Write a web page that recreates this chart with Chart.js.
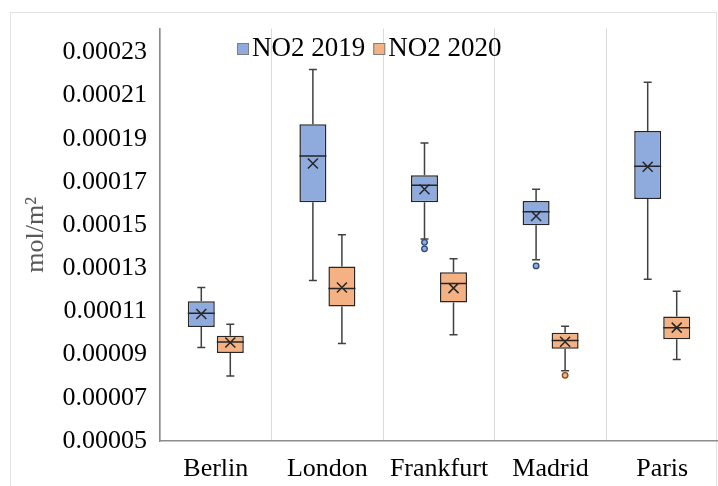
<!DOCTYPE html>
<html lang="en">
<head>
  <meta charset="UTF-8" />
  <title>NO2 2019 vs 2020</title>
  <script src="https://cdn.jsdelivr.net/npm/chart.js"></script>
  <style>
    body {
      margin: 0;
      background: #ffffff;
    }
    #wrap {
      width: 718px;
      height: 486px;
    }
  </style>
</head>
<body>
<div id="wrap"><canvas id="boxChart" width="718" height="486"></canvas></div>

<script>
  // categorias e estatisticas
  const cities = ['Berlin', 'London', 'Frankfurt', 'Madrid', 'Paris'];
  const tickValues = [0.00005, 0.00007, 0.00009, 0.00011, 0.00013, 0.00015, 0.00017, 0.00019, 0.00021, 0.00023];

  const min2019 = [0.0000933, 0.0001243, 0.0001435, 0.000134, 0.0001249];
  const q1_2019 = [0.0001028, 0.0001606, 0.0001606, 0.0001499, 0.0001621];
  const med2019 = [0.0001092, 0.000182, 0.0001685, 0.0001562, 0.0001772];
  const q3_2019 = [0.0001147, 0.0001967, 0.0001731, 0.0001612, 0.0001936];
  const max2019 = [0.0001211, 0.0002221, 0.000188, 0.0001666, 0.0002161];
  const mean2019 = [0.0001088, 0.0001785, 0.0001666, 0.0001542, 0.000177];
  const out2019 = [[], [], [0.000142, 0.000139], [0.0001311], []];

  const min2020 = [0.0000801, 0.0000952, 0.0000992, 0.0000825, 0.0000878];
  const q1_2020 = [0.0000907, 0.0001123, 0.0001142, 0.0000927, 0.0000971];
  const med2020 = [0.0000959, 0.0001206, 0.000123, 0.0000965, 0.0001024];
  const q3_2020 = [0.0000987, 0.0001308, 0.0001282, 0.0001001, 0.0001077];
  const max2020 = [0.0001041, 0.0001455, 0.0001344, 0.0001032, 0.0001194];
  const mean2020 = [0.0000956, 0.0001211, 0.0001208, 0.000096, 0.0001025];
  const out2020 = [[], [], [], [0.0000804], []];

  const stats = [
    { min: min2019, med: med2019, max: max2019, mean: mean2019, out: out2019 },
    { min: min2020, med: med2020, max: max2020, mean: mean2020, out: out2020 },
  ];

  const lineColor = '#404040';
  const serif = "'Liberation Serif', 'Times New Roman', serif";

  // bigodes, mediana, media e outliers desenhados sobre as caixas
  const boxExtras = {
    id: 'boxExtras',
    afterDatasetsDraw(chart) {
      const ctx = chart.ctx;
      const y = chart.scales.y;
      ctx.save();
      ctx.strokeStyle = lineColor;
      ctx.lineWidth = 1.5;
      chart.data.datasets.forEach((ds, i) => {
        const s = stats[i];
        chart.getDatasetMeta(i).data.forEach((bar, j) => {
          const x = bar.x;
          const hw = bar.width / 2;
          const yMin = y.getPixelForValue(s.min[j]);
          const yMax = y.getPixelForValue(s.max[j]);
          const yQ1 = y.getPixelForValue(ds.data[j][0]);
          const yQ3 = y.getPixelForValue(ds.data[j][1]);
          const yMed = y.getPixelForValue(s.med[j]);
          const yMean = y.getPixelForValue(s.mean[j]);

          ctx.beginPath();
          ctx.moveTo(x, yQ3);
          ctx.lineTo(x, yMax);
          ctx.moveTo(x - 4, yMax);
          ctx.lineTo(x + 4, yMax);
          ctx.moveTo(x, yQ1);
          ctx.lineTo(x, yMin);
          ctx.moveTo(x - 4, yMin);
          ctx.lineTo(x + 4, yMin);
          ctx.stroke();

          ctx.beginPath();
          ctx.strokeStyle = '#262626';
          ctx.moveTo(x - hw, yMed);
          ctx.lineTo(x + hw, yMed);
          ctx.moveTo(x - 5, yMean - 5);
          ctx.lineTo(x + 5, yMean + 5);
          ctx.moveTo(x + 5, yMean - 5);
          ctx.lineTo(x - 5, yMean + 5);
          ctx.stroke();
          ctx.strokeStyle = lineColor;

          s.out[j].forEach((v) => {
            ctx.beginPath();
            ctx.arc(x, y.getPixelForValue(v), 2.8, 0, Math.PI * 2);
            ctx.fillStyle = ds.backgroundColor;
            ctx.fill();
            ctx.lineWidth = 1.3;
            ctx.strokeStyle = i === 0 ? '#2f4a7a' : '#8a4a1f';
            ctx.stroke();
            ctx.strokeStyle = lineColor;
            ctx.lineWidth = 1.5;
          });
        });
      });
      ctx.restore();
    },
  };

  // legenda dentro da area do grafico, como no original
  const innerLegend = {
    id: 'innerLegend',
    afterDraw(chart) {
      const ctx = chart.ctx;
      ctx.save();
      ctx.font = '27px ' + serif;
      ctx.textBaseline = 'middle';
      let x = 237;
      const yc = 49;
      chart.data.datasets.forEach((ds) => {
        ctx.fillStyle = ds.backgroundColor;
        ctx.fillRect(x, yc - 6, 12, 12);
        ctx.strokeStyle = '#7f7f7f';
        ctx.lineWidth = 1;
        ctx.strokeRect(x + 0.5, yc - 5.5, 11, 11);
        ctx.fillStyle = '#000000';
        ctx.fillText(ds.label, x + 15, yc);
        x += 15 + ctx.measureText(ds.label).width + 8;
      });
      ctx.restore();
    },
  };

  const frame = {
    id: 'frame',
    beforeDraw(chart) {
      const ctx = chart.ctx;
      ctx.save();
      ctx.strokeStyle = '#e3e3e3';
      ctx.lineWidth = 1;
      ctx.strokeRect(10.5, 12.5, 706, 490);
      ctx.restore();
    },
  };

  new Chart(document.getElementById('boxChart'), {
    type: 'bar',
    data: {
      labels: cities,
      datasets: [
        {
          label: 'NO2 2019',
          data: cities.map((c, i) => [q1_2019[i], q3_2019[i]]),
          backgroundColor: '#8faadc',
          borderColor: '#262626',
          borderWidth: 1.5,
          borderSkipped: false,
        },
        {
          label: 'NO2 2020',
          data: cities.map((c, i) => [q1_2020[i], q3_2020[i]]),
          backgroundColor: '#f4b183',
          borderColor: '#262626',
          borderWidth: 1.5,
          borderSkipped: false,
        },
      ],
    },
    options: {
      responsive: false,
      animation: false,
      categoryPercentage: 0.52,
      barPercentage: 0.93,
      layout: { padding: { top: 23, left: 0, right: 0, bottom: 0 } },
      plugins: {
        legend: { display: false },
        tooltip: { enabled: false },
      },
      scales: {
        x: {
          grid: { display: true, color: '#d9d9d9', offset: true, drawTicks: false },
          border: { display: true, color: '#8c8c8c', width: 1.5 },
          ticks: { color: '#000000', font: { family: serif, size: 26 }, padding: 13 },
          afterFit(scale) {
            scale.height = 45;
          },
        },
        y: {
          min: 0.00005,
          max: 0.000241,
          grid: { display: false, drawTicks: false },
          border: { display: true, color: '#8c8c8c', width: 1.5 },
          afterBuildTicks(scale) {
            scale.ticks = tickValues.map((v) => ({ value: v }));
          },
          ticks: {
            color: '#000000',
            font: { family: serif, size: 26 },
            padding: 13,
            callback: (v) => Number(v).toFixed(5),
          },
          title: {
            display: true,
            text: 'mol/m²',
            color: '#595959',
            font: { family: serif, size: 26 },
            padding: { top: 21, bottom: 0 },
          },
          afterFit(scale) {
            scale.width = 160;
          },
        },
      },
    },
    plugins: [frame, boxExtras, innerLegend],
  });
</script>
</body>
</html>
